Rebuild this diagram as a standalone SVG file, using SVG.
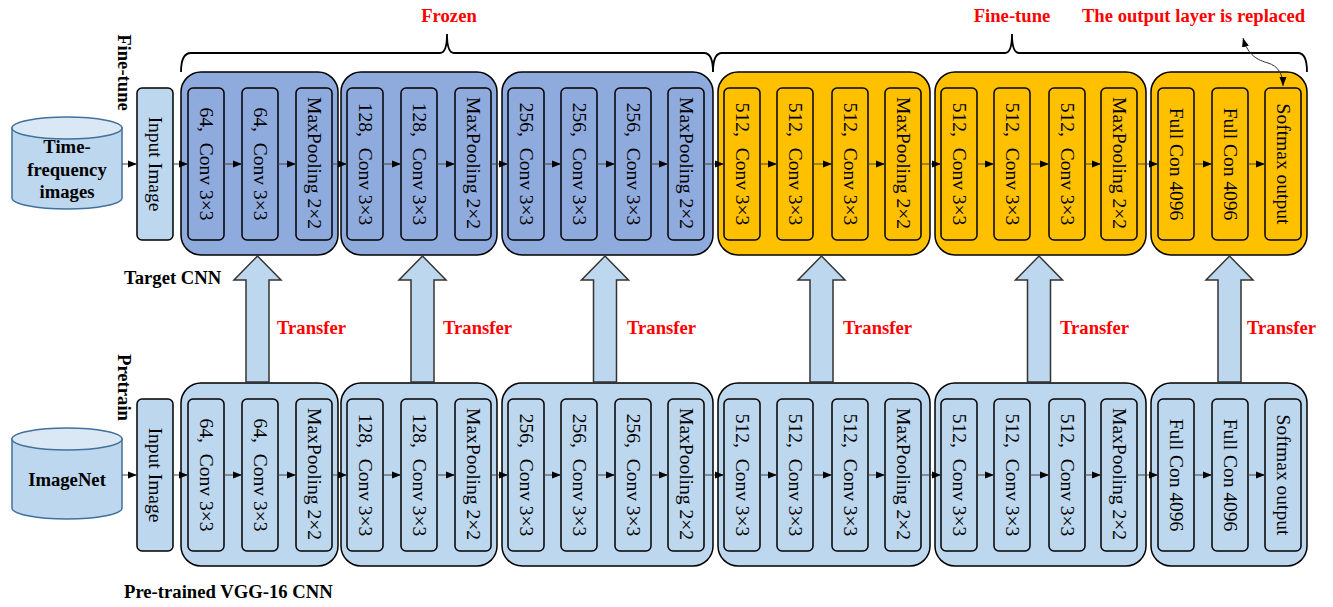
<svg xmlns="http://www.w3.org/2000/svg" width="1333" height="607" viewBox="0 0 1333 607">
<style>
.outer{stroke:#000;stroke-width:1.5}
.inner{stroke:#000;stroke-width:1.5}
.blue{fill:#8FAADC}
.light{fill:#BDD7EE}
.yellow{fill:#FFC000}
.t{font-family:"Liberation Serif","Times New Roman",serif;font-size:19.5px;fill:#000;text-anchor:middle}
.b{font-family:"Liberation Serif","Times New Roman",serif;font-size:18.67px;font-weight:bold;fill:#000}
.r{font-family:"Liberation Serif","Times New Roman",serif;font-size:18.67px;font-weight:bold;fill:#FF0000}
.con{stroke:#444;stroke-width:1;fill:none;marker-end:url(#ah)}
.tr{fill:#BDD7EE;stroke:#333;stroke-width:1.5}
.cyl{fill:#BDD7EE;stroke:#41719C;stroke-width:1.5}
.cyltop{fill:#DAE8F5;stroke:#41719C;stroke-width:1.5}
.brace{fill:none;stroke:#000;stroke-width:1.8}
</style>
<defs>
<marker id="ah" markerWidth="9" markerHeight="8" refX="9" refY="4" orient="auto" markerUnits="userSpaceOnUse"><path d="M0,0.5 L9,4 L0,7.5 Z" fill="#000"/></marker>
<marker id="ah2" markerWidth="9" markerHeight="8" refX="9" refY="4" orient="auto-start-reverse" markerUnits="userSpaceOnUse"><path d="M0,0.5 L9,4 L0,7.5 Z" fill="#000"/></marker>
</defs>

<!-- Labels -->
<g id="labels">
<text class="r" x="449" y="22" text-anchor="middle">Frozen</text>
<text class="r" x="1012" y="22" text-anchor="middle">Fine-tune</text>
<text class="r" x="1193.5" y="22" text-anchor="middle">The output layer is replaced</text>
<text class="b" transform="translate(118,72.5) rotate(90)" text-anchor="middle">Fine-tune</text>
<text class="b" transform="translate(118,387.5) rotate(90)" text-anchor="middle">Pretrain</text>
<text class="b" x="124" y="284">Target CNN</text>
<text class="b" x="124" y="598">Pre-trained VGG-16 CNN</text>
<text class="r" x="277" y="334">Transfer</text>
<text class="r" x="443" y="334">Transfer</text>
<text class="r" x="627" y="334">Transfer</text>
<text class="r" x="843" y="334">Transfer</text>
<text class="r" x="1060" y="334">Transfer</text>
<text class="r" x="1247" y="334">Transfer</text>
</g>

<!-- Braces -->
<g id="braces">
<path class="brace" d="M181,72 Q181,53 191,53 L440,53 Q447,53 447,34 Q447,53 454,53 L704,53 Q713,53 713,72"/>
<path class="brace" d="M713,72 Q713,53 722,53 L1005,53 Q1012,53 1012,34 Q1012,53 1019,53 L1298,53 Q1307,53 1307,72"/>
</g>

<!-- Datasets -->
<g id="tf-images">
<path class="cyl" d="M12,128 L12,198 A55,11 0 0 0 122,198 L122,128 Z"/>
<ellipse class="cyltop" cx="67" cy="128" rx="55" ry="11"/>
<text class="b" x="67" y="153" text-anchor="middle">Time-</text>
<text class="b" x="67" y="176" text-anchor="middle">frequency</text>
<text class="b" x="67" y="198" text-anchor="middle">images</text>
</g>
<g id="imagenet">
<path class="cyl" d="M12,439 L12,508 A55,11 0 0 0 122,508 L122,439 Z"/>
<ellipse class="cyltop" cx="67" cy="439" rx="55" ry="11"/>
<text class="b" x="67" y="486" text-anchor="middle">ImageNet</text>
</g>

<!-- TOP ROW (Target CNN) -->
<g id="t-input"><rect class="inner light" x="137" y="88" width="36" height="152" rx="5"/><text class="t" transform="translate(148.5,164) rotate(90)">Input Image</text></g>
<g id="t-block1">
<rect class="outer blue" x="181" y="72" width="157" height="183" rx="20"/>
<rect class="inner blue" x="188" y="88" width="36" height="152" rx="5"/><text class="t" transform="translate(199.5,164) rotate(90)">64, <tspan dx="6">Conv 3×3</tspan></text>
<rect class="inner blue" x="242" y="88" width="36" height="152" rx="5"/><text class="t" transform="translate(253.5,164) rotate(90)">64, <tspan dx="6">Conv 3×3</tspan></text>
<rect class="inner blue" x="296" y="88" width="36" height="152" rx="5"/><text class="t" transform="translate(307.5,163) rotate(90)">MaxPooling 2×2</text>
</g>
<g id="t-block2">
<rect class="outer blue" x="341" y="72" width="156" height="183" rx="20"/>
<rect class="inner blue" x="347" y="88" width="36" height="152" rx="5"/><text class="t" transform="translate(358.5,164) rotate(90)">128, <tspan dx="6">Conv 3×3</tspan></text>
<rect class="inner blue" x="401" y="88" width="36" height="152" rx="5"/><text class="t" transform="translate(412.5,164) rotate(90)">128, <tspan dx="6">Conv 3×3</tspan></text>
<rect class="inner blue" x="455" y="88" width="36" height="152" rx="5"/><text class="t" transform="translate(466.5,163) rotate(90)">MaxPooling 2×2</text>
</g>
<g id="t-block3">
<rect class="outer blue" x="502" y="72" width="211" height="183" rx="20"/>
<rect class="inner blue" x="508" y="88" width="36" height="152" rx="5"/><text class="t" transform="translate(519.5,164) rotate(90)">256, <tspan dx="6">Conv 3×3</tspan></text>
<rect class="inner blue" x="561" y="88" width="36" height="152" rx="5"/><text class="t" transform="translate(572.5,164) rotate(90)">256, <tspan dx="6">Conv 3×3</tspan></text>
<rect class="inner blue" x="615" y="88" width="36" height="152" rx="5"/><text class="t" transform="translate(626.5,164) rotate(90)">256, <tspan dx="6">Conv 3×3</tspan></text>
<rect class="inner blue" x="668" y="88" width="36" height="152" rx="5"/><text class="t" transform="translate(679.5,163) rotate(90)">MaxPooling 2×2</text>
</g>
<g id="t-block4">
<rect class="outer yellow" x="718" y="72" width="212" height="183" rx="20"/>
<rect class="inner yellow" x="724" y="88" width="36" height="152" rx="5"/><text class="t" transform="translate(735.5,164) rotate(90)">512, <tspan dx="6">Conv 3×3</tspan></text>
<rect class="inner yellow" x="777" y="88" width="36" height="152" rx="5"/><text class="t" transform="translate(788.5,164) rotate(90)">512, <tspan dx="6">Conv 3×3</tspan></text>
<rect class="inner yellow" x="832" y="88" width="36" height="152" rx="5"/><text class="t" transform="translate(843.5,164) rotate(90)">512, <tspan dx="6">Conv 3×3</tspan></text>
<rect class="inner yellow" x="885" y="88" width="36" height="152" rx="5"/><text class="t" transform="translate(896.5,163) rotate(90)">MaxPooling 2×2</text>
</g>
<g id="t-block5">
<rect class="outer yellow" x="935" y="72" width="211" height="183" rx="20"/>
<rect class="inner yellow" x="941" y="88" width="36" height="152" rx="5"/><text class="t" transform="translate(952.5,164) rotate(90)">512, <tspan dx="6">Conv 3×3</tspan></text>
<rect class="inner yellow" x="994" y="88" width="36" height="152" rx="5"/><text class="t" transform="translate(1005.5,164) rotate(90)">512, <tspan dx="6">Conv 3×3</tspan></text>
<rect class="inner yellow" x="1049" y="88" width="36" height="152" rx="5"/><text class="t" transform="translate(1060.5,164) rotate(90)">512, <tspan dx="6">Conv 3×3</tspan></text>
<rect class="inner yellow" x="1101" y="88" width="36" height="152" rx="5"/><text class="t" transform="translate(1112.5,163) rotate(90)">MaxPooling 2×2</text>
</g>
<g id="t-block6">
<rect class="outer yellow" x="1151" y="72" width="156" height="183" rx="20"/>
<rect class="inner yellow" x="1158" y="88" width="36" height="152" rx="5"/><text class="t" transform="translate(1169.5,164) rotate(90)">Full Con 4096</text>
<rect class="inner yellow" x="1212" y="88" width="36" height="152" rx="5"/><text class="t" transform="translate(1223.5,164) rotate(90)">Full Con 4096</text>
<rect class="inner yellow" x="1265" y="88" width="36" height="152" rx="5"/><text class="t" transform="translate(1276.5,164) rotate(90)">Softmax output</text>
</g>

<!-- BOTTOM ROW (Pre-trained VGG-16) -->
<g id="b-input"><rect class="inner light" x="137" y="399" width="36" height="152" rx="5"/><text class="t" transform="translate(148.5,475) rotate(90)">Input Image</text></g>
<g id="b-block1">
<rect class="outer light" x="181" y="383" width="157" height="183" rx="20"/>
<rect class="inner light" x="188" y="399" width="36" height="152" rx="5"/><text class="t" transform="translate(199.5,475) rotate(90)">64, <tspan dx="6">Conv 3×3</tspan></text>
<rect class="inner light" x="242" y="399" width="36" height="152" rx="5"/><text class="t" transform="translate(253.5,475) rotate(90)">64, <tspan dx="6">Conv 3×3</tspan></text>
<rect class="inner light" x="296" y="399" width="36" height="152" rx="5"/><text class="t" transform="translate(307.5,474) rotate(90)">MaxPooling 2×2</text>
</g>
<g id="b-block2">
<rect class="outer light" x="341" y="383" width="156" height="183" rx="20"/>
<rect class="inner light" x="347" y="399" width="36" height="152" rx="5"/><text class="t" transform="translate(358.5,475) rotate(90)">128, <tspan dx="6">Conv 3×3</tspan></text>
<rect class="inner light" x="401" y="399" width="36" height="152" rx="5"/><text class="t" transform="translate(412.5,475) rotate(90)">128, <tspan dx="6">Conv 3×3</tspan></text>
<rect class="inner light" x="455" y="399" width="36" height="152" rx="5"/><text class="t" transform="translate(466.5,474) rotate(90)">MaxPooling 2×2</text>
</g>
<g id="b-block3">
<rect class="outer light" x="502" y="383" width="211" height="183" rx="20"/>
<rect class="inner light" x="508" y="399" width="36" height="152" rx="5"/><text class="t" transform="translate(519.5,475) rotate(90)">256, <tspan dx="6">Conv 3×3</tspan></text>
<rect class="inner light" x="561" y="399" width="36" height="152" rx="5"/><text class="t" transform="translate(572.5,475) rotate(90)">256, <tspan dx="6">Conv 3×3</tspan></text>
<rect class="inner light" x="615" y="399" width="36" height="152" rx="5"/><text class="t" transform="translate(626.5,475) rotate(90)">256, <tspan dx="6">Conv 3×3</tspan></text>
<rect class="inner light" x="668" y="399" width="36" height="152" rx="5"/><text class="t" transform="translate(679.5,474) rotate(90)">MaxPooling 2×2</text>
</g>
<g id="b-block4">
<rect class="outer light" x="718" y="383" width="212" height="183" rx="20"/>
<rect class="inner light" x="724" y="399" width="36" height="152" rx="5"/><text class="t" transform="translate(735.5,475) rotate(90)">512, <tspan dx="6">Conv 3×3</tspan></text>
<rect class="inner light" x="777" y="399" width="36" height="152" rx="5"/><text class="t" transform="translate(788.5,475) rotate(90)">512, <tspan dx="6">Conv 3×3</tspan></text>
<rect class="inner light" x="832" y="399" width="36" height="152" rx="5"/><text class="t" transform="translate(843.5,475) rotate(90)">512, <tspan dx="6">Conv 3×3</tspan></text>
<rect class="inner light" x="885" y="399" width="36" height="152" rx="5"/><text class="t" transform="translate(896.5,474) rotate(90)">MaxPooling 2×2</text>
</g>
<g id="b-block5">
<rect class="outer light" x="935" y="383" width="211" height="183" rx="20"/>
<rect class="inner light" x="941" y="399" width="36" height="152" rx="5"/><text class="t" transform="translate(952.5,475) rotate(90)">512, <tspan dx="6">Conv 3×3</tspan></text>
<rect class="inner light" x="994" y="399" width="36" height="152" rx="5"/><text class="t" transform="translate(1005.5,475) rotate(90)">512, <tspan dx="6">Conv 3×3</tspan></text>
<rect class="inner light" x="1049" y="399" width="36" height="152" rx="5"/><text class="t" transform="translate(1060.5,475) rotate(90)">512, <tspan dx="6">Conv 3×3</tspan></text>
<rect class="inner light" x="1101" y="399" width="36" height="152" rx="5"/><text class="t" transform="translate(1112.5,474) rotate(90)">MaxPooling 2×2</text>
</g>
<g id="b-block6">
<rect class="outer light" x="1151" y="383" width="156" height="183" rx="20"/>
<rect class="inner light" x="1158" y="399" width="36" height="152" rx="5"/><text class="t" transform="translate(1169.5,475) rotate(90)">Full Con 4096</text>
<rect class="inner light" x="1212" y="399" width="36" height="152" rx="5"/><text class="t" transform="translate(1223.5,475) rotate(90)">Full Con 4096</text>
<rect class="inner light" x="1265" y="399" width="36" height="152" rx="5"/><text class="t" transform="translate(1276.5,475) rotate(90)">Softmax output</text>
</g>

<!-- Connectors -->
<g id="connectors">
<g class="con">
<line x1="122" y1="164" x2="137" y2="164"/><line x1="173" y1="164" x2="188" y2="164"/><line x1="224" y1="164" x2="242" y2="164"/><line x1="278" y1="164" x2="296" y2="164"/><line x1="332" y1="164" x2="347" y2="164"/><line x1="383" y1="164" x2="401" y2="164"/><line x1="437" y1="164" x2="455" y2="164"/><line x1="491" y1="164" x2="508" y2="164"/><line x1="544" y1="164" x2="561" y2="164"/><line x1="597" y1="164" x2="615" y2="164"/><line x1="651" y1="164" x2="668" y2="164"/><line x1="704" y1="164" x2="724" y2="164"/><line x1="760" y1="164" x2="777" y2="164"/><line x1="813" y1="164" x2="832" y2="164"/><line x1="868" y1="164" x2="885" y2="164"/><line x1="921" y1="164" x2="941" y2="164"/><line x1="977" y1="164" x2="994" y2="164"/><line x1="1030" y1="164" x2="1049" y2="164"/><line x1="1085" y1="164" x2="1101" y2="164"/><line x1="1137" y1="164" x2="1158" y2="164"/><line x1="1194" y1="164" x2="1212" y2="164"/><line x1="1248" y1="164" x2="1265" y2="164"/>
<line x1="122" y1="475" x2="137" y2="475"/><line x1="173" y1="475" x2="188" y2="475"/><line x1="224" y1="475" x2="242" y2="475"/><line x1="278" y1="475" x2="296" y2="475"/><line x1="332" y1="475" x2="347" y2="475"/><line x1="383" y1="475" x2="401" y2="475"/><line x1="437" y1="475" x2="455" y2="475"/><line x1="491" y1="475" x2="508" y2="475"/><line x1="544" y1="475" x2="561" y2="475"/><line x1="597" y1="475" x2="615" y2="475"/><line x1="651" y1="475" x2="668" y2="475"/><line x1="704" y1="475" x2="724" y2="475"/><line x1="760" y1="475" x2="777" y2="475"/><line x1="813" y1="475" x2="832" y2="475"/><line x1="868" y1="475" x2="885" y2="475"/><line x1="921" y1="475" x2="941" y2="475"/><line x1="977" y1="475" x2="994" y2="475"/><line x1="1030" y1="475" x2="1049" y2="475"/><line x1="1085" y1="475" x2="1101" y2="475"/><line x1="1137" y1="475" x2="1158" y2="475"/><line x1="1194" y1="475" x2="1212" y2="475"/><line x1="1248" y1="475" x2="1265" y2="475"/>
</g>
<path d="M1243,38 C1248,56 1258,60 1268,63 C1278,66 1283,74 1283,86" fill="none" stroke="#333" stroke-width="1" marker-start="url(#ah2)" marker-end="url(#ah2)"/>
<path class="tr" d="M246,382 V280 H234 L257.5,256 L281,280 H269 V382 Z"/>
<path class="tr" d="M411,382 V280 H399 L422.5,256 L446,280 H434 V382 Z"/>
<path class="tr" d="M593.5,382 V280 H581.5 L605,256 L628.5,280 H616.5 V382 Z"/>
<path class="tr" d="M810,382 V280 H798 L821.5,256 L845,280 H833 V382 Z"/>
<path class="tr" d="M1027.5,382 V280 H1015.5 L1039,256 L1062.5,280 H1050.5 V382 Z"/>
<path class="tr" d="M1218,382 V280 H1206 L1229.5,256 L1253,280 H1241 V382 Z"/>
</g>
</svg>
